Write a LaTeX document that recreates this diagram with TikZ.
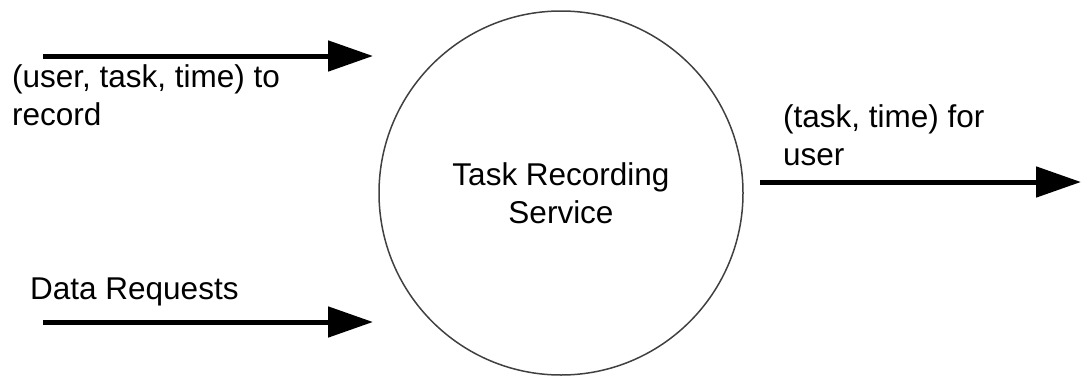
\documentclass[tikz,border=0pt]{standalone}
\usepackage{fontspec}
\setmainfont{Liberation Sans}
\usetikzlibrary{arrows.meta}
\begin{document}
\begin{tikzpicture}[x=1pt,y=-1pt,
  flow/.style={line width=5pt,-{Triangle[length=45pt,width=30pt]}},
  lbl/.style={anchor=base west,inner sep=0pt,align=left,font=\fontsize{31.5}{38}\selectfont},
  svc/.style={circle,draw=black!75,line width=1.5pt,minimum size=364pt,inner sep=0pt,align=center,font=\fontsize{31.5}{38}\selectfont}]
\useasboundingbox (0,0) rectangle (1081,375);
% the service bubble
\node[svc] (s) at (561,193) {Task Recording\\Service};
% flow end points
\coordinate (in1a) at (43,56);
\coordinate (in1b) at (373,56);
\coordinate (in2a) at (43,322);
\coordinate (in2b) at (373,322);
\coordinate (outa) at (760,182);
\coordinate (outb) at (1081,182);
% flows
\draw[flow] (in1a) -- (in1b);
\draw[flow] (in2a) -- (in2b);
\draw[flow] (outa) -- (outb);
% flow labels (base = baseline of the last line)
\node[lbl] (l1) at (12,125) {(user, task, time) to\\record};
\node[lbl] (l2) at (30,299) {Data Requests};
\node[lbl] (l3) at (783,165) {(task, time) for\\user};
\end{tikzpicture}
\end{document}
